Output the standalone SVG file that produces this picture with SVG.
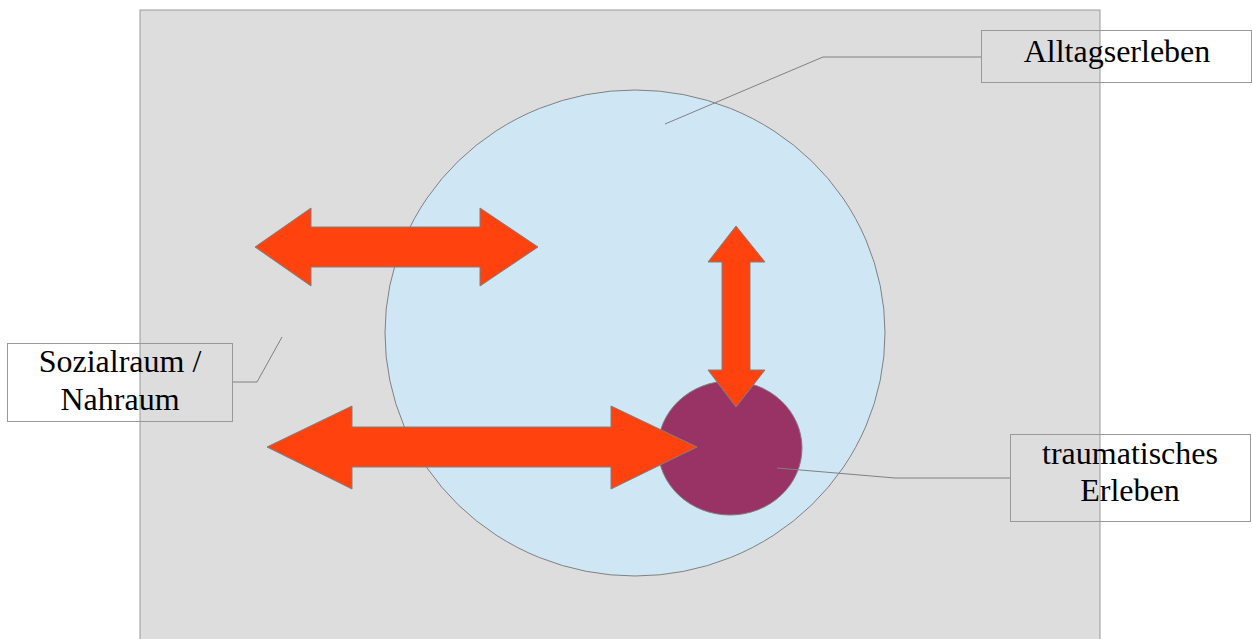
<svg xmlns="http://www.w3.org/2000/svg" width="1252" height="639" viewBox="0 0 1252 639">
<style>
.ln{fill:none;stroke:#808080;stroke-width:1}
.box{fill:none;stroke:#999999;stroke-width:1}
.arr{fill:#ff420e;stroke:#808080;stroke-width:1}
.t{font-family:"Liberation Serif","Times New Roman",serif;font-size:32px;fill:#000;text-anchor:middle}
</style>
<rect width="1252" height="639" fill="#ffffff"/>
<g id="sozialraum-bg"><rect x="140" y="10" width="960" height="640" fill="#dddddd" stroke="#999999"/></g>
<g id="alltag-circle"><ellipse cx="635" cy="333" rx="250" ry="243" fill="#cfe7f5" stroke="#808080"/></g>
<g id="trauma-circle"><ellipse cx="730" cy="448" rx="72" ry="67" fill="#993366" stroke="#808080"/></g>
<g id="connectors">
<polygon class="arr" points="255,247 311,208 311,227 480,227 480,208 538,247 480,286 480,267 311,267 311,286"/>
<polygon class="arr" points="267,447 352,406 352,427 611,427 611,406 697,447 611,489 611,467 352,467 352,489"/>
<polygon class="arr" points="736,226 765,262 750,262 750,370 765,370 736,407 708,370 722,370 722,262 708,262"/>
<polyline class="ln" points="981,57 823,57 665,124"/>
<polyline class="ln" points="232,382 257,382 282,337"/>
<polyline class="ln" points="1011,478 895,478 777,468"/>
</g>
<g id="label-alltag"><rect class="box" x="981.5" y="30.5" width="270" height="52"/><text class="t" x="1117" y="62">Alltagserleben</text></g>
<g id="label-sozial"><rect class="box" x="7.5" y="343.5" width="225" height="78"/><text class="t" x="120" y="372">Sozialraum /</text><text class="t" x="120" y="410">Nahraum</text></g>
<g id="label-trauma"><rect class="box" x="1010.5" y="434.5" width="240" height="87"/><text class="t" x="1130" y="464">traumatisches</text><text class="t" x="1130" y="501">Erleben</text></g>
</svg>
